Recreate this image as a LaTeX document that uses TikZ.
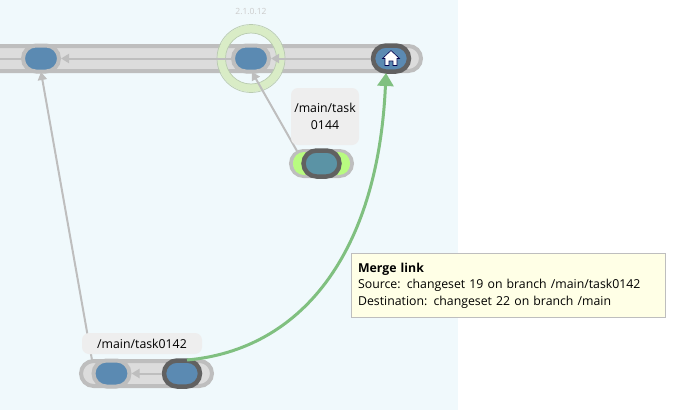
\documentclass[tikz,border=0pt]{standalone}
\usepackage{fontspec}
\setmainfont{Open Sans}
\usetikzlibrary{arrows.meta}
\definecolor{canvasbg}{HTML}{F0F9FC}
\definecolor{bandfill}{HTML}{DCDCDC}
\definecolor{bandline}{HTML}{BEBEBE}
\definecolor{csblue}{HTML}{5B8AB2}
\definecolor{csteal}{HTML}{5B93A5}
\definecolor{csdark}{HTML}{616161}
\definecolor{limefill}{HTML}{B8FB80}
\definecolor{mergegreen}{HTML}{80C080}
\definecolor{ringgreen}{HTML}{D9ECC6}
\definecolor{ringline}{HTML}{B9CBB0}
\definecolor{labelbg}{HTML}{EEEEEE}
\definecolor{tipbg}{HTML}{FFFFE6}
\tikzset{
    band/.style={draw=bandline, line width=4pt, fill=bandfill, rounded corners=12.5pt, minimum height=25pt, inner sep=0pt, outer sep=0pt},
    changeset/.style={fill=csblue, draw=bandline, line width=4pt, rounded corners=13pt, minimum width=36pt, minimum height=26pt, inner sep=0pt},
    head/.style={changeset, draw=csdark, line width=4.5pt},
    branchlabel/.style={fill=labelbg, rounded corners=7pt, inner sep=0pt, align=center, font=\fontsize{12.3}{16.5}\selectfont},
    parentlink/.style={draw=bandline, line width=2pt, -{Triangle[length=8pt,width=9pt]}},
}
\begin{document}
\begin{tikzpicture}[x=1pt, y=-1pt]
    \useasboundingbox (0,0) rectangle (681,410);
    \clip (0,0) rectangle (681,410);
    \fill[canvasbg] (0,0) rectangle (458,410);
    % branches
    \node[band, minimum width=465pt, anchor=east] (mainband) at (421,58.5) {};
    \node[band, minimum width=131pt, anchor=west] (band142) at (81,373.5) {};
    \node[band, minimum width=61pt, anchor=west] (band144) at (291,163.5) {};
    % release ring
    \draw[ringgreen, line width=8pt] (251,58.5) circle (29.5pt);
    \node[circle, draw=ringline, line width=.7pt, minimum size=68pt, inner sep=0pt] (ringout) at (251,58.5) {};
    \node[circle, draw=ringline, line width=.7pt, minimum size=51pt, inner sep=0pt] (ringin) at (251,58.5) {};
    \node[text=black!20, font=\fontsize{8.5}{10}\selectfont] (release) at (251,11.5) {2.1.0.12};
    % changesets
    \node[changeset] (cs1) at (41,58.5) {};
    \node[changeset] (cs2) at (251,58.5) {};
    \node[head] (cs3) at (391,58.5) {};
    \node[changeset] (cs19a) at (111.5,373.5) {};
    \node[head] (cs19) at (182,373.5) {};
    \fill[limefill, rounded corners=11pt] (293,152) rectangle (350,175);
    \node[head, fill=csteal] (cs144) at (321.5,163.5) {};
    % home icon
    \fill[white, draw=black!70!blue, line width=.6pt] (391,50.5) -- (399.5,58.5) -- (397,58.5) -- (397,65.5) -- (393,65.5) -- (393,61) -- (389,61) -- (389,65.5) -- (385,65.5) -- (385,58.5) -- (382.5,58.5) -- cycle;
    % links
    \coordinate (offleft) at (0,58.5);
    \draw[bandline, line width=2pt] (cs1) -- (offleft);
    \draw[parentlink] (cs2) -- (cs1);
    \draw[parentlink] (cs3) -- (cs2);
    \draw[parentlink] (cs19) -- (cs19a);
    \coordinate (from142) at (92,360);
    \coordinate (to1) at (41,72);
    \draw[parentlink] (from142) -- (to1);
    \coordinate (from144) at (297,151);
    \coordinate (to2) at (252,72);
    \draw[parentlink] (from144) -- (to2);
    % labels
    \node[branchlabel, minimum width=120pt, minimum height=21pt] (lab142) at (142,343.5) {/main/task0142};
    \node[branchlabel, minimum width=68pt, minimum height=57pt] (lab144) at (325,116.5) {/main/task\\0144};
    % merge
    \coordinate (mergefrom) at (187,360);
    \coordinate (mergeto) at (386,73);
    \draw[mergegreen, line width=3pt, -{Triangle[length=13pt,width=16pt]}] (mergefrom) .. controls (300,350) and (378,255) .. (mergeto);
    % tooltip
    \node[draw=bandline, line width=1.2pt, fill=tipbg, anchor=north west, minimum height=64pt, inner sep=0pt, text width=301pt, inner xsep=6.5pt, align=left, font=\fontsize{12.3}{16.5}\selectfont] (tooltip) at (351,253) {\textbf{Merge link}\\Source: changeset 19 on branch /main/task0142\\Destination: changeset 22 on branch /main};
\end{tikzpicture}
\end{document}
